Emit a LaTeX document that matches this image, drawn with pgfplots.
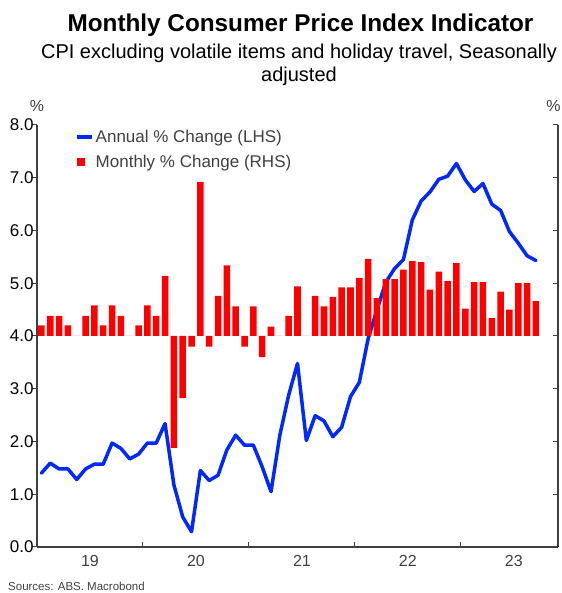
\documentclass[border=0pt]{standalone}
\usepackage{fontspec}
\setmainfont{Liberation Sans}
\usepackage{pgfplots}
\pgfplotsset{compat=1.18}
\usepackage{pgfplotstable}
\definecolor{cpiblue}{RGB}{0,40,255}
\definecolor{axisgray}{RGB}{64,64,64}

% Annual % change (LHS), monthly points Jan-2019 .. Sep-2023 (x = months since Jan 2019, mid-month)
\pgfplotstableread{
m annual
0.5 1.40
1.5 1.59
2.5 1.48
3.5 1.48
4.5 1.28
5.5 1.48
6.5 1.57
7.5 1.57
8.5 1.97
9.5 1.87
10.5 1.67
11.5 1.76
12.5 1.97
13.5 1.97
14.5 2.34
15.5 1.18
16.5 0.57
17.5 0.29
18.5 1.45
19.5 1.26
20.5 1.36
21.5 1.84
22.5 2.12
23.5 1.93
24.5 1.93
25.5 1.52
26.5 1.05
27.5 2.12
28.5 2.88
29.5 3.48
30.5 2.02
31.5 2.49
32.5 2.39
33.5 2.09
34.5 2.27
35.5 2.85
36.5 3.12
37.5 3.95
38.5 4.50
39.5 5.02
40.5 5.28
41.5 5.45
42.5 6.20
43.5 6.56
44.5 6.73
45.5 6.97
46.5 7.03
47.5 7.27
48.5 6.96
49.5 6.74
50.5 6.89
51.5 6.50
52.5 6.38
53.5 5.98
54.5 5.76
55.5 5.52
56.5 5.43
}\annualtbl

% Monthly % change (RHS)
\pgfplotstableread{
m monthly
0.5 0.10
1.5 0.19
2.5 0.19
3.5 0.10
4.5 0.00
5.5 0.19
6.5 0.29
7.5 0.10
8.5 0.29
9.5 0.19
10.5 0.00
11.5 0.10
12.5 0.29
13.5 0.19
14.5 0.57
15.5 -1.06
16.5 -0.59
17.5 -0.10
18.5 1.46
19.5 -0.10
20.5 0.38
21.5 0.67
22.5 0.28
23.5 -0.10
24.5 0.28
25.5 -0.20
26.5 0.09
27.5 0.00
28.5 0.19
29.5 0.47
30.5 0.00
31.5 0.38
32.5 0.28
33.5 0.37
34.5 0.46
35.5 0.46
36.5 0.55
37.5 0.73
38.5 0.36
39.5 0.54
40.5 0.54
41.5 0.63
42.5 0.71
43.5 0.70
44.5 0.44
45.5 0.61
46.5 0.52
47.5 0.69
48.5 0.26
49.5 0.51
50.5 0.51
51.5 0.17
52.5 0.42
53.5 0.25
54.5 0.50
55.5 0.50
56.5 0.33
}\monthlytbl

\begin{document}
\begin{tikzpicture}
\path[use as bounding box] (0pt,0pt) rectangle (561pt,593pt);

\node[anchor=base, font=\bfseries\fontsize{24.3}{29}\selectfont] at (300.5pt,561.3pt) {Monthly Consumer Price Index Indicator};
\node[anchor=base, font=\fontsize{20}{24}\selectfont] at (299pt,534.7pt) {CPI excluding volatile items and holiday travel, Seasonally};
\node[anchor=base, font=\fontsize{20}{24}\selectfont] at (299pt,511.3pt) {adjusted};
\node[anchor=base, font=\fontsize{16}{19}\selectfont, text=axisgray] at (37pt,481.3pt) {\%};
\node[anchor=base, font=\fontsize{16}{19}\selectfont, text=axisgray, inner sep=0pt] at (553.5pt,481.3pt) {\%};
\node[anchor=base west, font=\fontsize{11.5}{14}\selectfont, text=axisgray, inner sep=0pt] at (8pt,2.5pt) {Sources: ABS. Macrobond};

\begin{axis}[
  at={(37pt,46pt)}, anchor=south west, scale only axis,
  width=521pt, height=422pt,
  xmin=0, xmax=59, ymin=0, ymax=8,
  axis x line*=bottom, axis y line*=left,
  axis line style={axisgray, line width=1.2pt},
  tick align=inside, major tick length=5pt,
  tick style={axisgray, line width=1pt},
  ytick={0,1,2,3,4,5,6,7,8},
  ytick style={xshift=-5pt},
  xtick={12,24,36,48}, xticklabels={},
  extra x ticks={6,18,30,42,54},
  extra x tick labels={19,20,21,22,23},
  extra x tick style={major tick length=0pt},
  /pgf/number format/assume math mode=true,
  yticklabel style={font=\fontsize{17}{20}\selectfont, text=black,
    /pgf/number format/fixed, /pgf/number format/fixed zerofill,
    /pgf/number format/precision=1},
  xticklabel style={font=\fontsize{16}{19}\selectfont, text=axisgray, yshift=-5pt},
]
\addplot[cpiblue, line width=3.5pt, line join=round, line cap=round] table[x=m, y=annual] {\annualtbl};
\end{axis}

\begin{axis}[
  at={(37pt,46pt)}, anchor=south west, scale only axis,
  width=521pt, height=422pt,
  xmin=0, xmax=59, ymin=-2, ymax=2,
  axis x line=none, axis y line*=right,
  axis line style={axisgray, line width=1.2pt},
  tick align=inside, major tick length=5pt,
  tick style={axisgray, line width=1pt},
  ytick={-2,-1.5,-1,-0.5,0,0.5,1,1.5,2}, yticklabels={},
  legend cell align=left,
  legend style={at={(0.072,0.993)}, anchor=north west, draw=none, fill=none,
    inner sep=0pt, font=\fontsize{17}{20}\selectfont, text=axisgray,
    row sep=7pt},
]
\addlegendimage{cpiblue, line width=4pt, legend image code/.code={\draw (0pt,0pt) -- (15pt,0pt);}}
\addlegendentry{Annual \% Change (LHS)}
\addplot[ybar, bar width=0.74, fill=red, draw=none,
  legend image code/.code={\fill[red] (0pt,-4.2pt) rectangle (8.5pt,4.2pt); \path (15pt,0pt);}]
  table[x=m, y=monthly] {\monthlytbl};
\addlegendentry{Monthly \% Change (RHS)}
\end{axis}
\end{tikzpicture}
\end{document}
